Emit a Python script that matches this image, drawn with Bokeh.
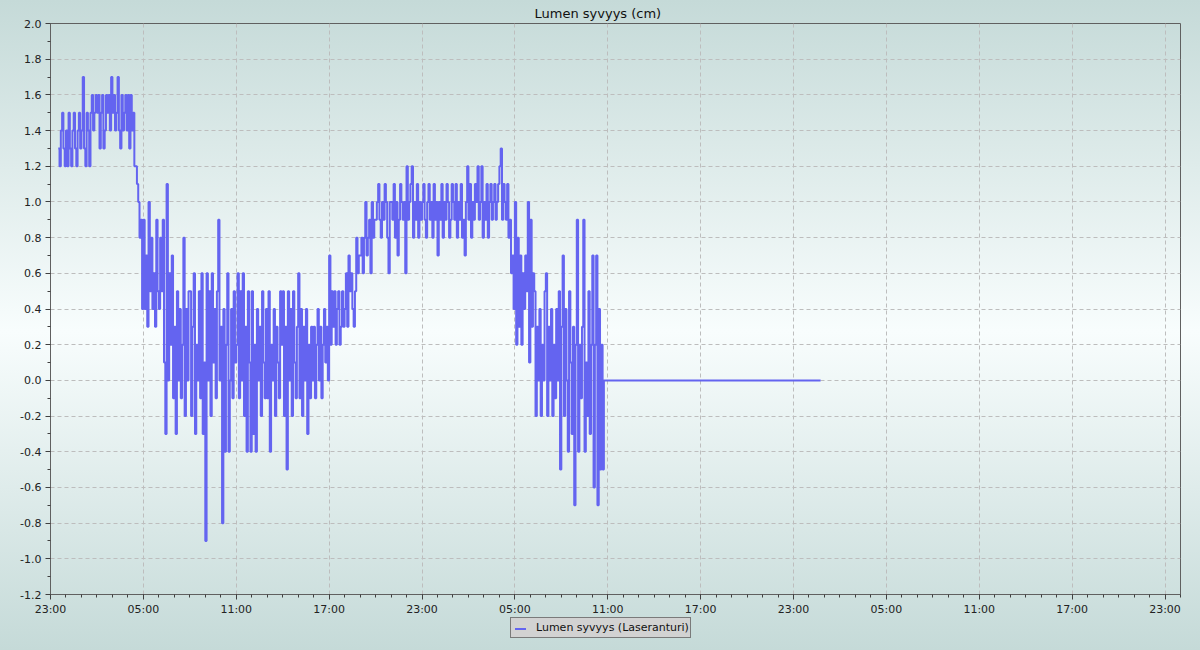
from bokeh.plotting import figure
from bokeh.layouts import column
from bokeh.models import (FixedTicker, PrintfTickFormatter, Range1d, Div,
                          GlobalInlineStyleSheet)
from bokeh.embed import file_html
from bokeh.resources import INLINE

# ---- data (hours after 23:00 on day 1; 5-minute samples) ----
start_hour = 0.5           # first sample at 23:30
step_hours = 1.0 / 12.0    # 5 min
snow_depth = [
    1.3, 1.2, 1.4, 1.5, 1.3, 1.2,
    1.4, 1.2, 1.5, 1.3, 1.2, 1.4, 1.5, 1.3, 1.2, 1.4, 1.5, 1.3,
    1.4, 1.7, 1.3, 1.2, 1.5, 1.4, 1.2, 1.5, 1.6, 1.4, 1.5, 1.6,
    1.5, 1.6, 1.3, 1.5, 1.6, 1.3, 1.4, 1.6, 1.5, 1.6, 1.4, 1.7,
    1.5, 1.6, 1.4, 1.5, 1.7, 1.4, 1.3, 1.6, 1.4, 1.5, 1.6, 1.4,
    1.6, 1.3, 1.6, 1.4, 1.5, 1.2, 1.2, 1.1, 1.0, 0.8, 0.9, 0.4,
    0.9, 0.4, 0.7, 0.3, 1.0, 0.5, 0.8, 0.4, 0.6, 0.3, 0.9, 0.5,
    0.4, 0.8, 0.5, 0.9, 0.1, -0.3, 1.1, 0.0, 0.6, 0.2, 0.7, -0.1,
    0.3, -0.3, 0.5, 0.0, 0.4, -0.1, 0.2, 0.8, -0.2, 0.4, 0.0, 0.5,
    0.5, -0.2, 0.3, 0.6, -0.3, 0.2, 0.0, 0.5, -0.1, 0.6, -0.3, 0.1,
    -0.9, 0.6, 0.0, 0.5, -0.2, 0.6, 0.1, 0.4, -0.1, 0.5, 0.9, 0.0,
    0.3, -0.8, 0.4, -0.4, 0.2, 0.6, -0.4, 0.0, 0.4, -0.1, 0.5, 0.1,
    0.2, 0.6, -0.1, 0.5, 0.0, 0.6, -0.2, 0.3, -0.4, 0.5, 0.1, -0.4,
    0.5, -0.3, 0.2, -0.4, 0.4, 0.0, 0.3, -0.2, 0.5, 0.1, -0.1, 0.4,
    -0.1, 0.5, -0.4, 0.2, 0.0, 0.4, -0.2, 0.3, 0.1, -0.1, 0.5, 0.2,
    0.5, -0.2, 0.3, -0.5, 0.5, 0.0, 0.4, -0.2, 0.5, 0.1, -0.1, 0.3,
    0.6, -0.1, 0.4, -0.2, 0.3, 0.0, 0.4, -0.3, 0.2, -0.1, 0.3, 0.0,
    0.3, -0.1, 0.2, 0.4, 0.0, 0.3, -0.1, 0.2, 0.4, 0.1, 0.3, 0.0,
    0.7, 0.2, 0.5, 0.3, 0.5, 0.2, 0.4, 0.5, 0.2, 0.3, 0.5, 0.3,
    0.4, 0.6, 0.3, 0.7, 0.5, 0.6, 0.4, 0.3, 0.5, 0.8, 0.6, 0.7,
    0.7, 0.8, 0.6, 0.8, 1.0, 0.7, 0.8, 0.9, 0.6, 1.0, 0.8, 0.9,
    0.9, 1.0, 1.1, 0.9, 0.8, 1.0, 0.9, 1.1, 1.0, 0.8, 0.6, 1.0,
    1.0, 0.9, 1.1, 0.8, 1.0, 0.7, 0.9, 1.1, 1.0, 0.9, 1.0, 0.6,
    1.2, 0.9, 1.0, 1.1, 1.2, 0.8, 1.0, 0.9, 1.1, 0.8, 1.0, 0.9,
    1.0, 1.1, 0.9, 0.8, 1.0, 1.1, 0.9, 1.0, 0.8, 1.1, 0.9, 1.0,
    0.7, 1.0, 0.9, 1.1, 0.8, 1.0, 0.9, 1.1, 1.0, 0.8, 0.9, 1.1,
    1.0, 0.9, 1.1, 0.8, 1.0, 0.9, 1.1, 0.8, 0.9, 0.7, 1.0, 1.2,
    0.9, 1.1, 0.8, 1.0, 0.9, 1.1, 1.0, 1.2, 0.9, 1.0, 1.2, 0.8,
    1.0, 0.9, 1.1, 0.8, 1.0, 1.1, 0.9, 1.0, 1.1, 0.9, 1.0, 1.1,
    1.2, 1.3, 0.9, 1.1, 1.0, 0.9, 1.1, 0.8, 0.9, 0.6, 0.7, 0.4,
    1.0, 0.2, 0.8, 0.3, 0.7, 0.2, 0.6, 0.4, 0.7, 0.5, 1.0, 0.1,
    0.9, 0.3, 0.6, 0.5, -0.2, 0.3, 0.0, 0.4, -0.2, 0.2, 0.0, 0.5,
    0.6, -0.2, 0.3, 0.0, 0.4, -0.2, 0.2, -0.1, 0.4, 0.0, 0.5, -0.5,
    0.3, 0.7, -0.2, 0.4, 0.0, -0.4, 0.5, 0.1, -0.3, 0.3, -0.7, 0.2,
    0.9, -0.4, 0.2, -0.1, 0.3, 0.9, -0.4, 0.1, -0.2, 0.5, -0.3, 0.2,
    0.7, -0.6, 0.2, 0.7, -0.7, 0.4, -0.5, 0.2, -0.5,
]
flat_tail = [0.0] * 169   # sensor reports 0.0 afterwards

tick_hours = [0, 6, 12, 18, 24, 30, 36, 42, 48, 54, 60, 66, 72]
tick_labels = ["23:00", "05:00", "11:00", "17:00", "23:00", "05:00", "11:00",
               "17:00", "23:00", "05:00", "11:00", "17:00", "23:00"]
y_ticks = [-1.2, -1.0, -0.8, -0.6, -0.4, -0.2, 0.0, 0.2, 0.4, 0.6, 0.8,
           1.0, 1.2, 1.4, 1.6, 1.8, 2.0]
y_minor = [-1.1, -0.9, -0.7, -0.5, -0.3, -0.1, 0.1, 0.3, 0.5, 0.7, 0.9,
           1.1, 1.3, 1.5, 1.7, 1.9]

series_name = "Lumen syvyys (Laseranturi)"
title_text = "Lumen syvyys (cm)"
line_color = "#6464F0"

values = snow_depth + flat_tail
times = [start_hour + i * step_hours for i in range(len(values))]

bg = "linear-gradient(to bottom, #c5dad8 0%, #f8fdfd 51%, #c5dad8 100%)"

p = figure(width=1200, height=618, output_backend="svg", toolbar_location=None,
           title=title_text, x_range=Range1d(0, 73), y_range=Range1d(-1.2, 2.0),
           min_border_left=50, min_border_right=20, min_border_top=23,
           min_border_bottom=23)
p.border_fill_alpha = 0
p.background_fill_alpha = 0

p.title.text_font = "DejaVu Sans"
p.title.text_font_size = "13px"
p.title.text_font_style = "normal"
p.title.text_color = "#111111"
p.title.align = "left"
p.title.offset = 484
p.title.standoff = 5

p.outline_line_color = "#606060"
p.outline_line_width = 1

for ax in (p.xaxis, p.yaxis):
    ax.axis_line_color = "#606060"
    ax.major_tick_line_color = "#404040"
    ax.minor_tick_line_color = "#404040"
    ax.major_tick_out = 5
    ax.major_tick_in = 0
    ax.minor_tick_out = 3
    ax.minor_tick_in = 0
    ax.major_label_text_font = "DejaVu Sans"
    ax.major_label_text_font_size = "11px"
    ax.major_label_text_color = "#222222"

p.xaxis.ticker = FixedTicker(ticks=tick_hours, minor_ticks=list(range(0, 74)))
p.xaxis.major_label_overrides = dict(zip(tick_hours, tick_labels))
p.xaxis.major_label_standoff = 3
p.yaxis.ticker = FixedTicker(ticks=y_ticks, minor_ticks=y_minor)
p.yaxis.formatter = PrintfTickFormatter(format="%.1f")
p.yaxis.major_label_standoff = 4

for g in (p.xgrid, p.ygrid):
    g.grid_line_color = "#bdbdbd"
    g.grid_line_dash = "4 3"
    g.grid_line_width = 1

p.step(times, values, mode="after", line_color=line_color, line_width=2)

legend_html = (
    '<div style="margin-left:510px; margin-top:-1px; width:181px; height:21px; '
    'box-sizing:border-box; background:#d2d2d2; border:1px solid #7a7a7a; '
    'display:flex; align-items:center; font-family:\'DejaVu Sans\'; font-size:11px; '
    'color:#111111; white-space:nowrap;">'
    '<span style="display:inline-block; width:11px; height:2px; margin-left:4px; '
    'margin-right:10px; margin-top:3px; background:%s;"></span>%s</div>'
    % (line_color, series_name)
)
legend_div = Div(text=legend_html, width=1200, height=32, margin=(0, 0, 0, 0))

layout = column(p, legend_div, spacing=0, margin=(0, 0, 0, 0))
layout.stylesheets = [GlobalInlineStyleSheet(
    css="html, body { background-image: %s; background-repeat: no-repeat; min-height: 100%%; }" % bg)]

open("out.html", "w").write(file_html(layout, INLINE))
